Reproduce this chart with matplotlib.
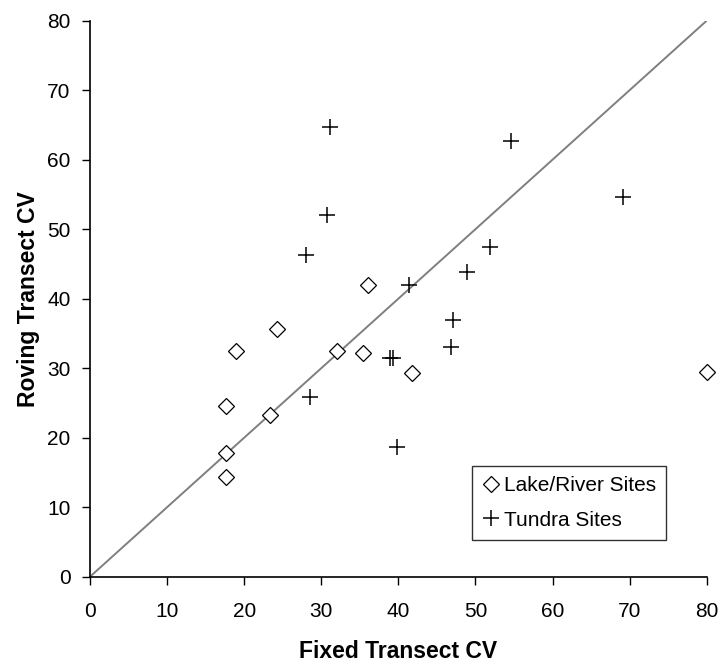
import matplotlib.pyplot as plt

# Lake/River sites (fixed vs roving transect CV)
lake_fixed = [17.7, 17.7, 17.7, 19.0, 23.3, 24.3, 32.0, 35.4, 36.1, 41.8, 80.0]
lake_roving = [14.4, 17.8, 24.5, 32.5, 23.2, 35.6, 32.5, 32.2, 42.0, 29.3, 29.4]

# Tundra sites
tundra_fixed = [31.1, 30.7, 28.0, 54.6, 69.2, 51.9, 48.9, 41.4, 47.1, 46.8,
                38.9, 39.3, 39.8, 28.6]
tundra_roving = [64.7, 52.0, 46.3, 62.7, 54.7, 47.4, 43.9, 41.9, 37.0, 33.0,
                 31.4, 31.4, 18.6, 25.9]

ticks = [0, 10, 20, 30, 40, 50, 60, 70, 80]

plt.rcParams['font.family'] = ['Liberation Sans', 'DejaVu Sans']

fig = plt.figure(figsize=(7.22, 6.63), dpi=100)
ax = fig.add_axes([0.1247, 0.1302, 0.8541, 0.8386])

# 1:1 reference line
ax.plot([0, 80], [0, 80], color='#7f7f7f', lw=1.4, zorder=1)

ax.plot(lake_fixed, lake_roving, linestyle='none', marker='D', ms=8.5,
        mfc='white', mec='black', mew=0.9, label='Lake/River Sites',
        zorder=3, clip_on=False)
ax.plot(tundra_fixed, tundra_roving, linestyle='none', marker='+', ms=12,
        mec='black', mew=1.1, label='Tundra Sites', zorder=3, clip_on=False)

ax.set_xlim(0, 80)
ax.set_ylim(0, 80)
ax.set_xticks(ticks)
ax.set_yticks(ticks)
ax.tick_params(direction='out', length=6, width=1, labelsize=15,
               colors='black')
ax.tick_params(axis='x', pad=12)
ax.tick_params(axis='y', pad=8)
for side in ['top', 'right']:
    ax.spines[side].set_visible(False)
for side in ['left', 'bottom']:
    ax.spines[side].set_linewidth(1.2)

ax.set_xlabel('Fixed Transect CV', fontsize=16.5, fontweight='bold',
              labelpad=14)
ax.set_ylabel('Roving Transect CV', fontsize=16.5, fontweight='bold',
              labelpad=5)

leg = ax.legend(loc='lower left', bbox_to_anchor=(0.62, 0.066),
                fontsize=15, frameon=True, fancybox=False, shadow=False,
                handlelength=0.8, handletextpad=0.2, borderpad=0.5,
                labelspacing=0.75, borderaxespad=0)
leg.get_frame().set_edgecolor('black')
leg.get_frame().set_linewidth(1.0)

fig.savefig('out.png', dpi=100)
